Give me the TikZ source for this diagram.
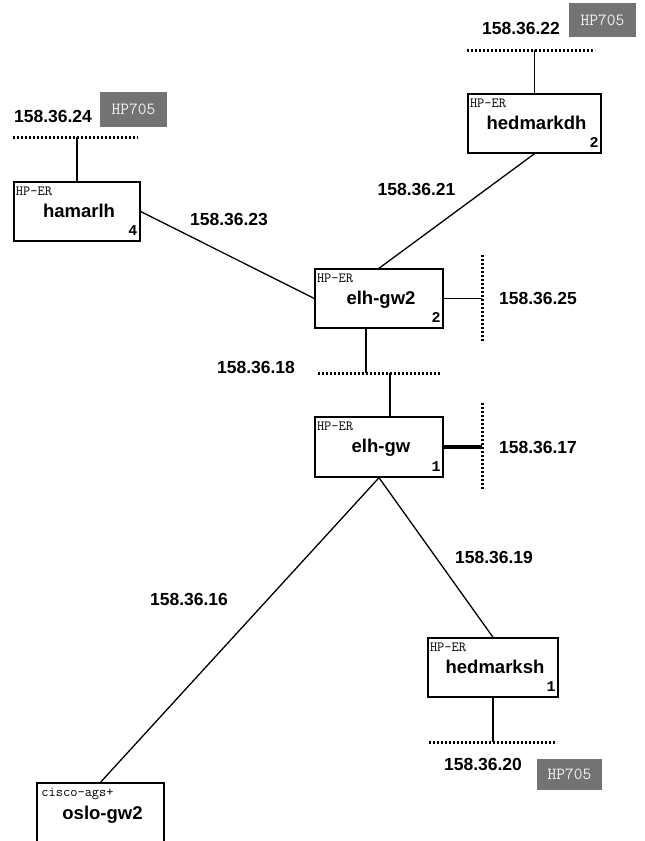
\documentclass[tikz,border=0pt]{standalone}
\usepackage{fontspec}
\setmainfont{Liberation Sans}
\newfontfamily\monof{Liberation Mono}
\begin{document}
\begin{tikzpicture}[x=1pt,y=-1pt,
  router/.style={draw,line width=1.4pt,rectangle,inner sep=0pt,fill=white},
  kind/.style={anchor=west,inner sep=0pt,font=\ttfamily\fontsize{14}{15}\selectfont},
  hname/.style={inner sep=0pt,anchor=base,font=\bfseries\fontsize{18.5}{20}\selectfont},
  hnum/.style={inner sep=0pt,anchor=base east,font=\monof\bfseries\fontsize{15}{16}\selectfont},
  netlabel/.style={inner sep=0pt,font=\bfseries\fontsize{17.5}{19}\selectfont},
  hptag/.style={fill=black!55,inner sep=0pt,text=black!5,font=\ttfamily\fontsize{17}{18}\selectfont},
  net/.style={line width=3pt,dash pattern=on 2.4pt off 1.6pt},
  link/.style={line width=1.3pt},
  biglink/.style={line width=3.2pt}
]
\useasboundingbox (0,0) rectangle (645,841);
\clip (0,0) rectangle (645,841);

% network segments
\coordinate (n22a) at (467,50);  \coordinate (n22b) at (595,50);
\coordinate (n24a) at (13,137);  \coordinate (n24b) at (138,137);
\coordinate (n25a) at (482,255); \coordinate (n25b) at (482,343);
\coordinate (n18a) at (318,373); \coordinate (n18b) at (440,373);
\coordinate (n17a) at (482,403); \coordinate (n17b) at (482,490);
\coordinate (n20a) at (429,742); \coordinate (n20b) at (557,742);

% routers
\node[router,minimum width=133pt,minimum height=59pt] (hedmarkdh) at (534.5,123.5) {};
\node[router,minimum width=126pt,minimum height=59pt] (hamarlh) at (77,211.5) {};
\node[router,minimum width=128pt,minimum height=59pt] (elhgw2) at (379,298.5) {};
\node[router,minimum width=128pt,minimum height=60pt] (elhgw) at (379,447) {};
\node[router,minimum width=130pt,minimum height=59pt] (hedmarksh) at (493,667.5) {};
\node[router,minimum width=127pt,minimum height=59pt] (oslogw2) at (100.5,812.5) {};

% links between routers and networks
\draw[link] (hedmarkdh.north) -- (hedmarkdh.north |- n22a);
\draw[link] (hamarlh.north) -- (hamarlh.north |- n24a);
\draw[link] (elhgw2.east) -- (elhgw2.east -| n25a);
\draw[link] ([xshift=-13pt]elhgw2.south) -- ([xshift=-13pt]elhgw2.south |- n18a);
\draw[link] ([xshift=11pt]elhgw.north) -- ([xshift=11pt]elhgw.north |- n18a);
\draw[biglink] (elhgw.east) -- (elhgw.east -| n17a);
\draw[link] (hedmarksh.south) -- (hedmarksh.south |- n20a);
\draw[link] (hamarlh.east) -- (elhgw2.west);
\draw[link] (hedmarkdh.south) -- (elhgw2.north);
\draw[link] (elhgw.south) -- (hedmarksh.north);
\draw[link] (elhgw.south) -- (oslogw2.north);

\draw[net] (n22a) -- (n22b);
\draw[net] (n24a) -- (n24b);
\draw[net] (n25a) -- (n25b);
\draw[net] (n18a) -- (n18b);
\draw[net] (n17a) -- (n17b);
\draw[net] (n20a) -- (n20b);

% router texts
\foreach \r/\n/\k in {hedmarkdh/hedmarkdh/2, hamarlh/hamarlh/4, elhgw2/elh-gw2/2, elhgw/elh-gw/1, hedmarksh/hedmarksh/1}{
  \node[kind] (\r-kind) at ([xshift=2.5pt,yshift=-10pt]\r.north west) {HP-ER};
  \node[hname] (\r-name) at ([xshift=2pt,yshift=-36pt]\r.north) {\n};
  \node[hnum] (\r-num) at ([xshift=-3pt,yshift=6pt]\r.south east) {\k};
}
\node[kind] (oslogw2-kind) at ([xshift=5pt,yshift=-12pt]oslogw2.north west) {cisco-ags+};
\node[hname] (oslogw2-name) at ([xshift=2pt,yshift=-37pt]oslogw2.north) {oslo-gw2};

% network labels
\node[netlabel] (l22) at (521,28) {158.36.22};
\node[netlabel] (l24) at (53,116) {158.36.24};
\node[netlabel] (l23) at (229,219) {158.36.23};
\node[netlabel] (l21) at (416.5,189) {158.36.21};
\node[netlabel] (l25) at (538,298) {158.36.25};
\node[netlabel] (l18) at (256,367) {158.36.18};
\node[netlabel] (l17) at (538,447) {158.36.17};
\node[netlabel] (l19) at (494,557) {158.36.19};
\node[netlabel] (l16) at (189,599) {158.36.16};
\node[netlabel] (l20) at (483,764) {158.36.20};

% HP705 tags
\node[hptag,minimum width=67pt,minimum height=34pt] (t22) at (602.5,20) {HP705};
\node[hptag,minimum width=67pt,minimum height=35pt] (t24) at (133.5,109.5) {HP705};
\node[hptag,minimum width=65pt,minimum height=31pt] (t20) at (569.5,774.5) {HP705};
\end{tikzpicture}
\end{document}
